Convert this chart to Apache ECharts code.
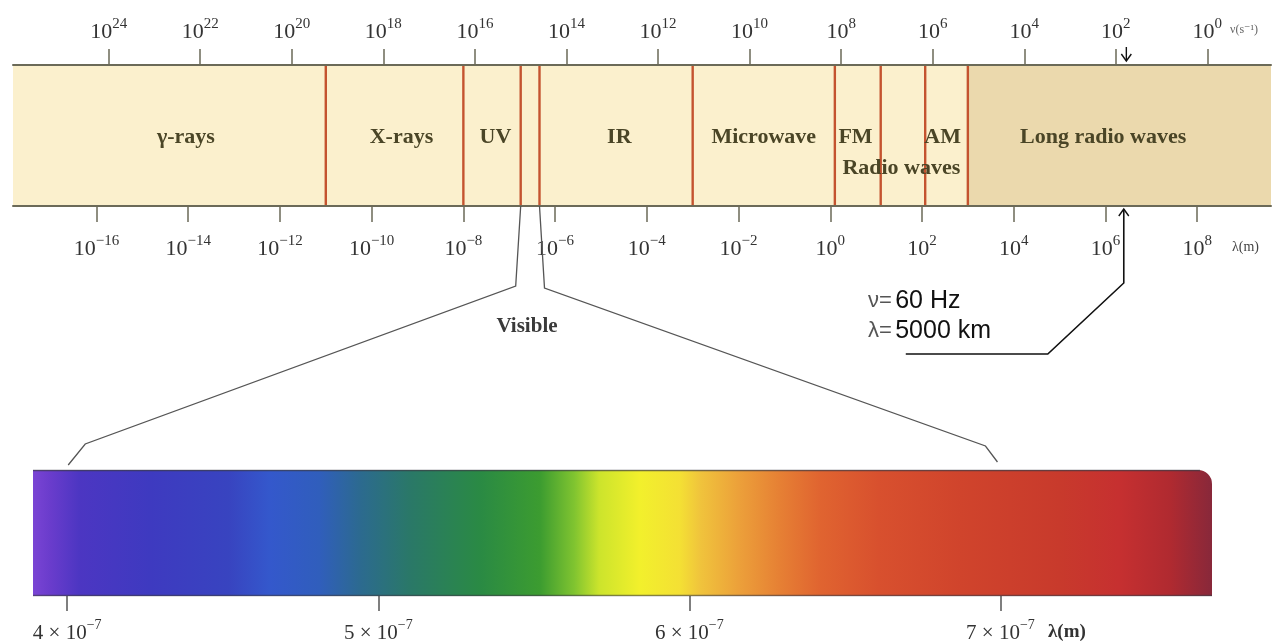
<!DOCTYPE html>
<html><head><meta charset="utf-8">
<script src="https://cdn.jsdelivr.net/npm/echarts@6/dist/echarts.min.js"></script>
<style>html,body{margin:0;padding:0;background:#fff}#c{width:1283px;height:644px}</style>
</head><body><div id="c"></div>
<script>
// ---------- data ----------
// log10 of wavelength (m) — bottom axis of the band
const lamTicks = [-16, -14, -12, -10, -8, -6, -4, -2, 0, 2, 4, 6, 8];
// log10 of frequency (s^-1) — top axis of the band
const freqTicks = [24, 22, 20, 18, 16, 14, 12, 10, 8, 6, 4, 2, 0];
// region boundaries (log10 λ) — red lines
const boundaries = [-11, -8, -6.75, -6.34, -3, 0.1, 1.1, 2.07, 3.0];
// region labels and their centre (log10 λ)
const regionNames = ['γ-rays', 'X-rays', 'UV', 'IR', 'Microwave', 'FM', 'AM', 'Long radio waves', 'Radio waves'];
const regionX = [-14.05, -9.35, -7.3, -4.6, -1.45, 0.55, 2.45, 5.95, 1.55];
const regionRow = [0, 0, 0, 0, 0, 0, 0, 0, 1];
// shading edge between the pale band and the long-radio-wave band (log10 λ)
const shadeSplit = 3.0;
// visible spectrum (nm) and its colours
const specTicks = [400, 500, 600, 700];
const specNm = [389, 394.5, 404, 426.6, 452, 465, 481, 494, 510, 532.7, 552, 563, 571, 584, 597, 603.4, 616, 629, 642, 661, 687, 719, 738, 754.5, 768];
const specColor = ['#7a44d4', '#6a3ccc', '#4c36c2', '#3e3ac0', '#3844c0', '#3458cc', '#305ebc', '#2c6a90', '#2a7868', '#2a8a44', '#3c9c30', '#80c430', '#cce42c', '#f2f02c', '#f4e034', '#f0c43c', '#eca03a', '#e68034', '#e06430', '#d8502e', '#d0442c', '#c83a2c', '#c63030', '#b02a30', '#88283a'];
// visible region: band edges (log10 λ) and spectrum ends (nm)
const visibleBand = [-6.75, -6.34];
const visibleNm = [400, 700];
// 60 Hz / 5000 km marker
const annotFreq = 1.77;
const annotLam = 6.4;

// ---------- layout / style ----------
const LAM_MIN = -17.82, LAM_MAX = 9.61;
const FREQ_MIN = -1.39, FREQ_MAX = 26.09;
const serif = "'Liberation Serif', 'DejaVu Serif', serif";
const sans = "'Liberation Sans', Arial, sans-serif";
const shadeColors = ['#fbf0cd', '#ebd9ad'];
const axisCol = '#6b6a58';

const supFmt = v => '{b|10}{s|' + (v < 0 ? '\u2212' + (-v) : v) + '}';
const richTick = {
  b: {fontFamily: serif, fontSize: 22, color: '#333', lineHeight: 26, verticalAlign: 'bottom'},
  s: {fontFamily: serif, fontSize: 15, color: '#333', lineHeight: 15, verticalAlign: 'top'}
};
const richSpec = {
  b: {fontFamily: serif, fontSize: 21, color: '#333', lineHeight: 26, verticalAlign: 'bottom'},
  s: {fontFamily: serif, fontSize: 14, color: '#333', lineHeight: 14, verticalAlign: 'top'}
};

const shadeRegions = [[LAM_MIN, shadeSplit], [shadeSplit, LAM_MAX]];
const specSpan = specNm[specNm.length - 1] - specNm[0];

const chart = echarts.init(document.getElementById('c'));
const option = {
  animation: false,
  backgroundColor: '#ffffff',
  grid: [
    {left: 13, top: 65, width: 1258, height: 141},
    {left: 33, top: 470, width: 1179, height: 127}
  ],
  xAxis: [
    {gridIndex: 0, type: 'value', position: 'bottom', min: LAM_MIN, max: LAM_MAX, z: 10,
      axisLine: {show: true, onZero: false, lineStyle: {color: axisCol, width: 2}},
      axisTick: {show: true, customValues: lamTicks, length: 16, lineStyle: {color: axisCol, width: 1.5}},
      axisLabel: {show: true, customValues: lamTicks, formatter: supFmt, rich: richTick, margin: 28},
      splitLine: {show: false}},
    {gridIndex: 0, type: 'value', position: 'top', inverse: true, min: FREQ_MIN, max: FREQ_MAX, z: 10,
      axisLine: {show: true, onZero: false, lineStyle: {color: axisCol, width: 2}},
      axisTick: {show: true, customValues: freqTicks, length: 16, lineStyle: {color: axisCol, width: 1.5}},
      axisLabel: {show: true, customValues: freqTicks, formatter: supFmt, rich: richTick, margin: 22},
      splitLine: {show: false}},
    {gridIndex: 1, type: 'value', position: 'bottom', min: specNm[0], max: specNm[specNm.length - 1],
      axisLine: {show: false, onZero: false},
      axisTick: {show: true, customValues: specTicks, length: 15, lineStyle: {color: '#555', width: 1.5}},
      axisLabel: {show: true, customValues: specTicks, margin: 22, rich: richSpec,
        formatter: v => '{b|' + (v / 100) + ' \u00d7 10}{s|\u22127}'},
      splitLine: {show: false}}
  ],
  yAxis: [
    {gridIndex: 0, type: 'value', min: 0, max: 1, show: false},
    {gridIndex: 1, type: 'value', min: 0, max: 1, show: false}
  ],
  series: [
    {type: 'custom', xAxisIndex: 0, yAxisIndex: 0, silent: true, clip: false, z: 1,
      data: shadeRegions,
      renderItem: (params, api) => {
        const a = api.coord([api.value(0), 1]);
        const b = api.coord([api.value(1), 0]);
        return {type: 'rect', shape: {x: a[0], y: a[1], width: b[0] - a[0], height: b[1] - a[1]},
          style: {fill: shadeColors[params.dataIndex]}};
      }},
    {type: 'custom', xAxisIndex: 0, yAxisIndex: 0, silent: true, clip: false, z: 3,
      data: boundaries.map(v => [v, 0]),
      renderItem: (params, api) => {
        const a = api.coord([api.value(0), 1]);
        const b = api.coord([api.value(0), 0]);
        return {type: 'line', shape: {x1: a[0], y1: a[1], x2: b[0], y2: b[1]},
          style: {stroke: '#c4532f', lineWidth: 2.4}};
      }},
    {type: 'custom', xAxisIndex: 0, yAxisIndex: 0, silent: true, clip: false, z: 4,
      data: regionX.map((x, i) => [x, regionRow[i]]),
      renderItem: (params, api) => {
        const row = api.value(1);
        const p = api.coord([api.value(0), row === 0 ? 0.49 : 0.27]);
        return {type: 'text', x: p[0], y: p[1],
          style: {text: regionNames[params.dataIndex], fill: '#4a4526',
            font: 'bold 22px ' + serif, align: 'center', verticalAlign: 'middle'}};
      }},
    {type: 'custom', xAxisIndex: 2, yAxisIndex: 1, silent: true, clip: false, z: 2,
      data: [[specNm[0], specNm[specNm.length - 1]]],
      renderItem: (params, api) => {
        const a = api.coord([api.value(0), 1]);
        const b = api.coord([api.value(1), 0]);
        const stops = specNm.map((nm, i) => ({offset: (nm - specNm[0]) / specSpan, color: specColor[i]}));
        return {type: 'group', children: [
          {type: 'rect', shape: {x: a[0], y: a[1], width: b[0] - a[0], height: b[1] - a[1], r: [0, 14, 0, 0]},
            style: {fill: new echarts.graphic.LinearGradient(0, 0, 1, 0, stops)}},
          {type: 'line', shape: {x1: a[0], y1: a[1] + 0.5, x2: b[0] - 12, y2: a[1] + 0.5},
            style: {stroke: 'rgba(60,60,70,0.7)', lineWidth: 1.5}},
          {type: 'line', shape: {x1: a[0], y1: b[1] - 0.5, x2: b[0], y2: b[1] - 0.5},
            style: {stroke: 'rgba(60,60,70,0.6)', lineWidth: 1.5}}
        ]};
      }}
  ]
};
chart.setOption(option);

// ---------- annotations, positioned through the axes ----------
const px = (xi, yi, x, y) => chart.convertToPixel({xAxisIndex: xi, yAxisIndex: yi}, [x, y]);
const bl0 = px(0, 0, visibleBand[0], 0), bl1 = px(0, 0, visibleBand[1], 0);
const sp0 = px(2, 1, visibleNm[0], 1), sp1 = px(2, 1, visibleNm[1], 1);
const ta = px(1, 0, annotFreq, 1);
const ba = px(0, 0, annotLam, 0);
const lineStyle = (c, w) => ({stroke: c, lineWidth: w, fill: null});

chart.setOption({
  graphic: [
    {type: 'polyline', z: 20, shape: {points: [bl0, [bl0[0] - 5, bl0[1] + 80], [sp0[0] + 18, sp0[1] - 26], [sp0[0] + 1, sp0[1] - 5]]},
      style: lineStyle('#555', 1.3)},
    {type: 'polyline', z: 20, shape: {points: [bl1, [bl1[0] + 5, bl1[1] + 82], [sp1[0] - 15, sp1[1] - 24], [sp1[0] - 3, sp1[1] - 8]]},
      style: lineStyle('#555', 1.3)},
    {type: 'polyline', z: 20, shape: {points: [[ta[0], ta[1] - 18], [ta[0], ta[1] - 4]]}, style: lineStyle('#111', 1.4)},
    {type: 'polyline', z: 20, shape: {points: [[ta[0] - 5, ta[1] - 11], [ta[0], ta[1] - 4], [ta[0] + 5, ta[1] - 11]]}, style: lineStyle('#111', 1.4)},
    {type: 'polyline', z: 20, shape: {points: [[ba[0], ba[1] + 3], [ba[0], ba[1] + 77], [ba[0] - 76, ba[1] + 148], [ba[0] - 218, ba[1] + 148]]},
      style: lineStyle('#111', 1.6)},
    {type: 'polyline', z: 20, shape: {points: [[ba[0] - 5, ba[1] + 10], [ba[0], ba[1] + 3], [ba[0] + 5, ba[1] + 10]]}, style: lineStyle('#111', 1.4)},
    {type: 'text', z: 20, x: 868, y: 301, style: {text: '{g|ν=} {k|60 Hz}', verticalAlign: 'middle',
      rich: {g: {fontFamily: sans, fontSize: 22, fill: '#555'}, k: {fontFamily: sans, fontSize: 25, fill: '#111'}}}},
    {type: 'text', z: 20, x: 868, y: 331, style: {text: '{g|λ=} {k|5000 km}', verticalAlign: 'middle',
      rich: {g: {fontFamily: sans, fontSize: 22, fill: '#555'}, k: {fontFamily: sans, fontSize: 25, fill: '#111'}}}},
    {type: 'text', z: 20, x: 527, y: 327, style: {text: 'Visible', align: 'center', verticalAlign: 'middle',
      font: 'bold 21px ' + serif, fill: '#3a3a3a'}},
    {type: 'text', z: 20, x: 1230, y: 30, style: {text: 'ν(s\u207B\u00B9)', verticalAlign: 'middle',
      font: '12px ' + serif, fill: '#666'}},
    {type: 'text', z: 20, x: 1232, y: 247, style: {text: 'λ(m)', verticalAlign: 'middle',
      font: '14px ' + serif, fill: '#444'}},
    {type: 'text', z: 20, x: 1048, y: 632, style: {text: 'λ(m)', verticalAlign: 'middle',
      font: 'bold 19px ' + serif, fill: '#333'}}
  ]
});
</script></body></html>
